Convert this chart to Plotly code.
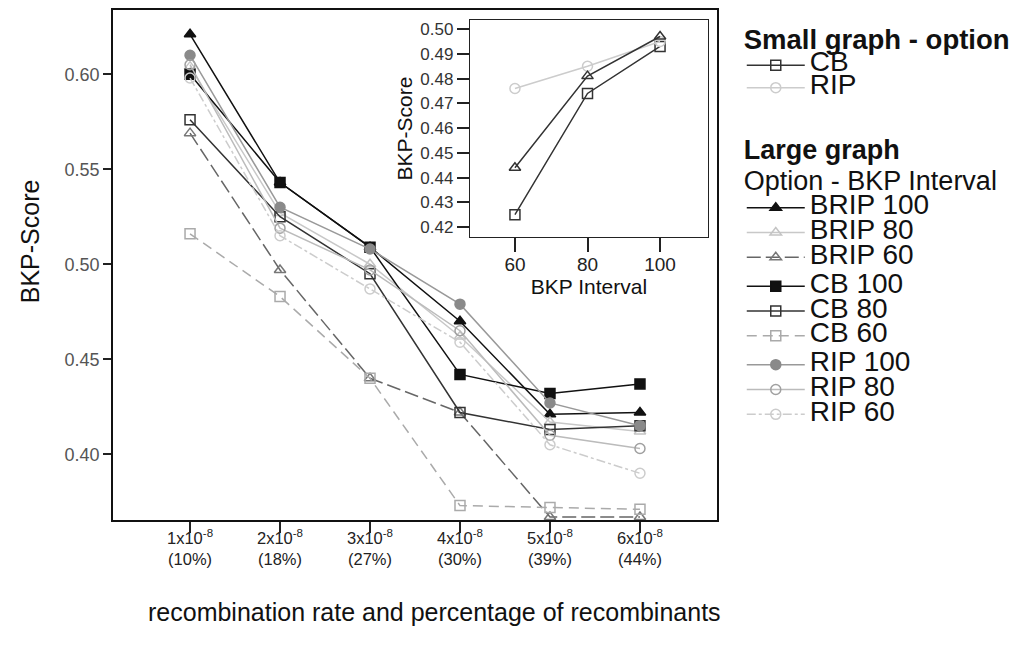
import plotly.graph_objects as go

# ---------------- data ----------------
categories = ["1e-8", "2e-8", "3e-8", "4e-8", "5e-8", "6e-8"]
tick_labels = ["1x10<sup>-8</sup><br>(10%)", "2x10<sup>-8</sup><br>(18%)",
               "3x10<sup>-8</sup><br>(27%)", "4x10<sup>-8</sup><br>(30%)",
               "5x10<sup>-8</sup><br>(39%)", "6x10<sup>-8</sup><br>(44%)"]

brip_100 = [0.621, 0.543, 0.509, 0.470, 0.421, 0.422]
brip_80 = [0.604, 0.527, 0.500, 0.462, 0.417, 0.412]
brip_60 = [0.569, 0.497, 0.440, 0.422, 0.367, 0.367]
cb_100 = [0.600, 0.543, 0.509, 0.442, 0.432, 0.437]
cb_80 = [0.576, 0.525, 0.495, 0.422, 0.413, 0.415]
cb_60 = [0.516, 0.483, 0.440, 0.373, 0.372, 0.371]
rip_100 = [0.610, 0.530, 0.508, 0.479, 0.427, 0.415]
rip_80 = [0.605, 0.519, 0.497, 0.465, 0.410, 0.403]
rip_60 = [0.598, 0.515, 0.487, 0.459, 0.405, 0.390]

inset_x = [60, 80, 100]
inset_cb = [0.425, 0.474, 0.493]
inset_brip = [0.444, 0.481, 0.497]
inset_rip = [0.476, 0.485, 0.495]

x_title = "recombination rate and percentage of recombinants"
y_title = "BKP-Score"

FONT = "Liberation Sans, Arial, sans-serif"


def big(label, size=28):
    return f'<span style="font-size:{size}px">{label}</span>'


fig = go.Figure()

main_series = [
    ("BRIP 100", brip_100, "BRIP", "#111111", "triangle-up", "solid", "#111111"),
    ("BRIP 80", brip_80, "BRIP", "#c4c4c4", "triangle-up-open", "solid", "#c8c8c8"),
    ("BRIP 60", brip_60, "BRIP", "#777777", "triangle-up-open", "14px,5px", "#666666"),
    ("CB 100", cb_100, "CB", "#111111", "square", "solid", "#111111"),
    ("CB 80", cb_80, "CB", "#333333", "square-open", "solid", "#333333"),
    ("CB 60", cb_60, "CB", "#aaaaaa", "square-open", "10px,6px", "#aaaaaa"),
    ("RIP 100", rip_100, "RIP", "#8a8a8a", "circle", "solid", "#999999"),
    ("RIP 80", rip_80, "RIP", "#a0a0a0", "circle-open", "solid", "#bbbbbb"),
    ("RIP 60", rip_60, "RIP", "#cccccc", "circle-open", "dashdot", "#cccccc"),
]

for name, vals, grp, mcol, sym, dash, lcol in main_series:
    fig.add_trace(go.Scatter(
        x=categories, y=vals, name=big(name), mode="lines+markers",
        line=dict(color=lcol, width=1.5, dash=dash),
        marker=dict(symbol=sym, size=10, color=mcol,
                    line=dict(color=mcol, width=1.5)),
        legend="legend2", legendgroup=grp,
        xaxis="x", yaxis="y"))

inset_series = [
    ("CB", inset_cb, "#333333", "square-open", True),
    ("RIP", inset_rip, "#cccccc", "circle-open", True),
    ("BRIP", inset_brip, "#333333", "triangle-up-open", False),
]
for name, vals, col, sym, show in inset_series:
    fig.add_trace(go.Scatter(
        x=inset_x, y=vals, name=big(name), mode="lines+markers",
        line=dict(color=col, width=1.5),
        marker=dict(symbol=sym, size=10, color=col, line=dict(color=col, width=1.5)),
        legend="legend", showlegend=show, xaxis="x2", yaxis="y2"))

fig.update_layout(
    width=1007, height=647,
    margin=dict(l=105, r=298, t=2, b=135),
    paper_bgcolor="white", plot_bgcolor="white",
    font=dict(family=FONT, color="#111111"),
    xaxis=dict(
        type="category", categoryorder="array", categoryarray=categories,
        range=[-0.856, 5.856], tickvals=categories, ticktext=tick_labels,
        ticks="outside", ticklen=11, tickcolor="#222", tickwidth=1.5,
        ticklabelstandoff=-9,
        showline=True, linecolor="#111", linewidth=1.5, mirror=True,
        showgrid=False, zeroline=False, automargin=False,
        tickfont=dict(size=16.5, color="#222")),
    yaxis=dict(
        range=[0.3654, 0.6338], tickvals=[0.40, 0.45, 0.50, 0.55, 0.60],
        tickformat=".2f", ticks="outside", ticklen=8, tickcolor="#222",
        tickwidth=1.5, showline=True, linecolor="#111", linewidth=1.5,
        mirror=True, showgrid=False, zeroline=False, automargin=False,
        tickfont=dict(size=18, color="#555")),
    xaxis2=dict(
        domain=[0.591, 0.985], anchor="y2", range=[47.6, 113.2],
        tickvals=inset_x, ticks="outside", ticklen=14, tickcolor="#222",
        tickwidth=1.5, showline=True, linecolor="#222", linewidth=1.2,
        mirror=True, showgrid=False, zeroline=False, ticklabelstandoff=-4,
        tickfont=dict(size=19, color="#222"),
        title=dict(text="BKP Interval", font=dict(size=21), standoff=3)),
    yaxis2=dict(
        domain=[0.555, 0.980], anchor="x2", range=[0.416, 0.5036],
        tickvals=[0.42, 0.43, 0.44, 0.45, 0.46, 0.47, 0.48, 0.49, 0.50],
        tickformat=".2f", ticks="outside", ticklen=12, tickcolor="#222",
        tickwidth=1.5, showline=True, linecolor="#222", linewidth=1.2,
        mirror=True, showgrid=False, zeroline=False,
        tickfont=dict(size=17, color="#333"),
        title=dict(text="BKP-Score", font=dict(size=21), standoff=2)),
    legend=dict(
        x=1.041, y=0.99, xanchor="left", yanchor="top",
        title=dict(text="<b>" + big("Small graph - option", 27.5) + "</b>",
                   font=dict(size=26)),
        font=dict(size=15), itemwidth=58,
        bgcolor="rgba(0,0,0,0)", tracegroupgap=0),
    legend2=dict(
        x=1.041, y=0.769, xanchor="left", yanchor="top",
        title=dict(text="<b>" + big("Large graph", 27) + "</b><br>" +
                   big("Option - BKP Interval", 27), font=dict(size=24)),
        font=dict(size=16.8), itemwidth=58,
        bgcolor="rgba(0,0,0,0)",
        traceorder="grouped", tracegroupgap=4),
    annotations=[
        dict(text=x_title, xref="paper", yref="paper", x=0.533, y=-0.180,
             xanchor="center", yanchor="middle", showarrow=False,
             font=dict(size=25, color="#111")),
        dict(text=y_title, xref="paper", yref="paper", x=-0.137, y=0.547,
             xanchor="center", yanchor="middle", showarrow=False, textangle=-90,
             font=dict(size=25, color="#111")),
    ],
)

fig.write_html("out.html")
